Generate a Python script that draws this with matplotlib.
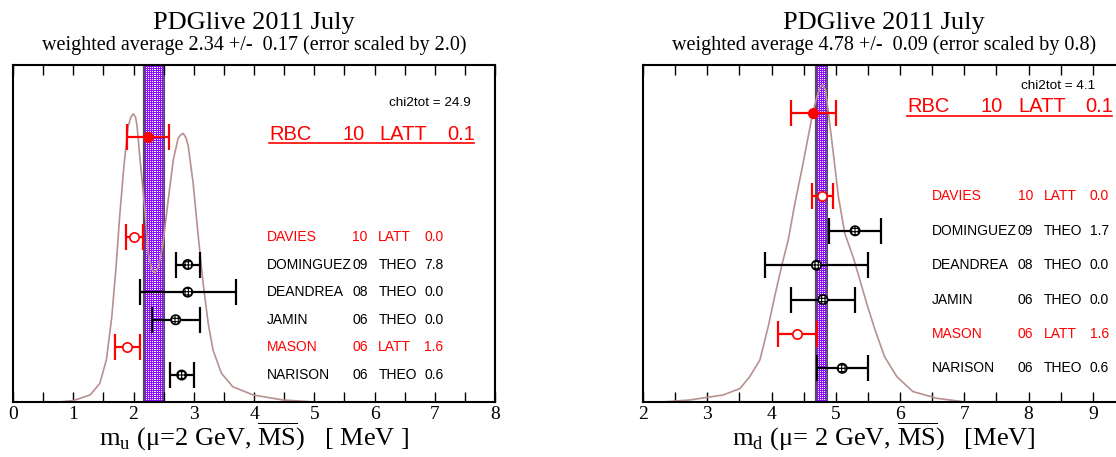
import matplotlib
matplotlib.use("Agg")
import matplotlib.pyplot as plt
import numpy as np

plt.rcParams['font.family'] = 'Liberation Serif'
plt.rcParams['mathtext.fontset'] = 'stix'
plt.rcParams['hatch.linewidth'] = 0.8

# measurements (same experiments in both panels)
names = ["DAVIES", "DOMINGUEZ", "DEANDREA", "JAMIN", "MASON", "NARISON"]
years = ["10", "09", "08", "06", "06", "06"]
kinds = ["LATT", "THEO", "THEO", "THEO", "LATT", "THEO"]

# m_u panel
u_val = [2.01, 2.9, 2.9, 2.7, 1.9, 2.8]
u_err = [0.14, 0.2, 0.8, 0.4, 0.2, 0.2]
u_chi = ["0.0", "7.8", "0.0", "0.0", "1.6", "0.6"]
u_rbc = (2.24, 0.35, "0.1")
u_avg, u_avg_err = 2.34, 0.17
u_chi2tot = "24.9"
# ideogram (x, height as fraction of the frame)
u_curve_x = [0.75, 1.0, 1.28, 1.44, 1.55, 1.64, 1.71, 1.77, 1.84, 1.91, 1.955, 1.995, 2.035,
             2.06, 2.12, 2.19, 2.245, 2.30, 2.355, 2.42, 2.49, 2.576, 2.66, 2.74, 2.78, 2.825,
             2.87, 2.91, 2.99, 3.07, 3.156, 3.24, 3.32, 3.46, 3.65, 3.985, 4.48, 5.0]
u_curve_y = [0.0, 0.004, 0.021, 0.055, 0.125, 0.253, 0.40, 0.55, 0.698, 0.817, 0.845, 0.855, 0.845,
             0.817, 0.698, 0.57, 0.441, 0.395, 0.382, 0.405, 0.471, 0.599, 0.718, 0.782, 0.792, 0.797,
             0.785, 0.758, 0.649, 0.50, 0.352, 0.233, 0.154, 0.085, 0.045, 0.021, 0.006, 0.0]

# m_d panel
d_val = [4.79, 5.3, 4.7, 4.8, 4.4, 5.1]
d_err = [0.16, 0.4, 0.8, 0.5, 0.3, 0.4]
d_chi = ["0.0", "1.7", "0.0", "0.0", "1.6", "0.6"]
d_rbc = (4.65, 0.35, "0.1")
d_avg, d_avg_err = 4.78, 0.09
d_chi2tot = "4.1"
d_curve_x = [2.3, 2.73, 3.25, 3.51, 3.66, 3.82, 3.95, 4.05, 4.157, 4.26, 4.364, 4.47, 4.57, 4.65,
             4.73, 4.77, 4.80, 4.84, 4.88, 4.96, 5.04, 5.14, 5.27, 5.375, 5.48, 5.61, 5.76, 5.95,
             6.20, 6.57, 6.98]
d_curve_y = [0.0, 0.006, 0.021, 0.04, 0.075, 0.125, 0.225, 0.314, 0.403, 0.481, 0.59, 0.688, 0.787, 0.866,
             0.92, 0.938, 0.941, 0.925, 0.866, 0.74, 0.61, 0.50, 0.43, 0.362, 0.293, 0.214, 0.134, 0.075,
             0.031, 0.011, 0.001]

W, H = 1116, 457
fig = plt.figure(figsize=(W / 100, H / 100), dpi=100)

curve_col = '#b89090'
purple = np.array([0.56, 0.05, 1.0])


def panel(left_px, xlim, val, err, chi, rbc, avg, avg_err, chi2tot, cx, cy,
          row0, drow, rbc_y, rbc_txt_y, rbc_line_y, chi_y, chi_x, name_x, rbc_x,
          title2, xlabel):
    ax = fig.add_axes([left_px / W, 55 / H, 482 / W, 337 / H])
    for s in ax.spines.values():
        s.set_linewidth(1.5)

    # weighted average band, purple with a white dot pattern
    lo, hi = avg - avg_err, avg + avg_err
    ncol = max(2, int(round((hi - lo) * 482 / (xlim[1] - xlim[0]))))
    pat = np.ones((337, ncol, 3)) * purple
    pat[::2, ::2] = 1.0
    ax.imshow(pat, extent=(lo, hi, 0, 1), aspect='auto', interpolation='nearest', zorder=1)
    ax.axvline(lo, color='#505050', lw=1.6, zorder=1)
    ax.axvline(hi, color='#505050', lw=1.1, zorder=1)

    ax.plot(cx, cy, color=curve_col, lw=1.2, zorder=2)

    n = len(val)
    rows = [row0 + drow * (n - 1 - i) for i in range(n)]
    for i in range(n):
        col = 'red' if kinds[i] == 'LATT' else 'black'
        ax.errorbar(val[i], rows[i], xerr=err[i], fmt='none', ecolor=col, elinewidth=1.6,
                    capsize=9.5, capthick=1.6, zorder=3)
        if kinds[i] == 'LATT':
            ax.scatter(val[i], rows[i], s=45, facecolor='white', edgecolor='red', lw=1.2, zorder=4)
        else:
            ax.scatter(val[i], rows[i], s=45, facecolor='white', edgecolor='black', hatch='+++++',
                       lw=1.2, zorder=4)
        kw = dict(transform=ax.transAxes, va='center', color=col, fontsize=10, family='Liberation Sans')
        ax.text(name_x, rows[i], names[i], **kw)
        ax.text(name_x + 0.178, rows[i], years[i], **kw)
        ax.text(name_x + 0.232, rows[i], kinds[i], **kw)
        ax.text(name_x + 0.327, rows[i], chi[i], **kw)

    # RBC (the highlighted measurement)
    ax.errorbar(rbc[0], rbc_y, xerr=rbc[1], fmt='o', color='red', ms=7, elinewidth=1.6,
                capsize=9.5, capthick=1.6, zorder=4)
    kw = dict(transform=ax.transAxes, va='center', color='red', fontsize=14.5, family='Liberation Sans')
    ax.text(rbc_x, rbc_txt_y, "RBC", **kw)
    ax.text(rbc_x + 0.153, rbc_txt_y, "10", **kw)
    ax.text(rbc_x + 0.23, rbc_txt_y, "LATT", **kw)
    ax.text(rbc_x + 0.37, rbc_txt_y, rbc[2], **kw)
    ax.plot([rbc_x, rbc_x + 0.425], [rbc_line_y, rbc_line_y], transform=ax.transAxes,
            color='red', lw=1.2, clip_on=False)

    ax.text(chi_x, chi_y, "chi2tot = " + chi2tot, transform=ax.transAxes, ha='right', va='center',
            fontsize=9.7, family='Liberation Sans')

    ax.set_xlim(*xlim)
    ax.set_ylim(0, 1)
    ax.set_yticks([])
    ax.set_xticks(np.arange(np.ceil(xlim[0]), xlim[1] + 0.01, 1))
    ax.set_xticks(np.arange(xlim[0], xlim[1] + 0.01, 0.5), minor=True)
    ax.tick_params(axis='x', which='both', direction='in', top=True, length=7, width=1, pad=3,
                   labelsize=14)

    cxp = (left_px + 241) / W
    fig.text(cxp, 1 - 28.5 / H, "PDGlive 2011 July", ha='center', va='baseline', fontsize=19)
    fig.text(cxp, 1 - 50 / H, title2, ha='center', va='baseline', fontsize=14.5)
    fig.text(cxp, 1 - 446 / H, xlabel, ha='center', va='baseline', fontsize=19)
    return ax


panel(13, (0, 8), u_val, u_err, u_chi, u_rbc, u_avg, u_avg_err, u_chi2tot, u_curve_x, u_curve_y,
      0.08, 0.082, 0.786, 0.794, 0.768, 0.888, 0.950, 0.526, 0.531,
      "weighted average 2.34 +/-  0.17 (error scaled by 2.0)",
      r"m$_\mathregular{u}$ (μ=2 GeV, $\overline{\mathregular{MS}}$)   [ MeV ]")
panel(643, (2, 9.5), d_val, d_err, d_chi, d_rbc, d_avg, d_avg_err, d_chi2tot, d_curve_x, d_curve_y,
      0.100, 0.102, 0.858, 0.876, 0.849, 0.939, 0.938, 0.600, 0.548,
      "weighted average 4.78 +/-  0.09 (error scaled by 0.8)",
      r"m$_\mathregular{d}$ (μ= 2 GeV, $\overline{\mathregular{MS}}$)   [MeV]")

fig.savefig("out.png", dpi=100)
